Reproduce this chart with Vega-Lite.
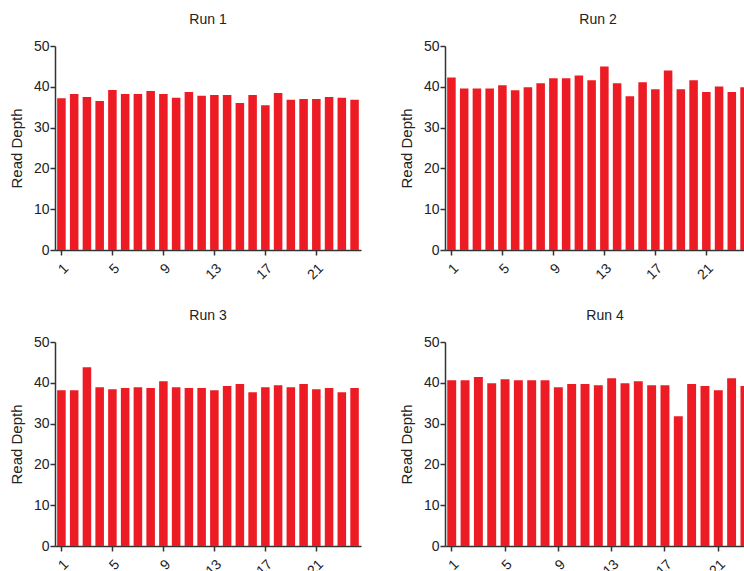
{
  "$schema": "https://vega.github.io/schema/vega-lite/v6.json",
  "padding": {"left": 9, "top": 13, "right": 0, "bottom": 0},
  "background": "white",
  "config": {
    "font": "Liberation Sans",
    "view": {"stroke": null},
    "axis": {"domainColor": "#333333", "domainWidth": 1.5, "tickColor": "#333333", "tickWidth": 1.5, "tickSize": 5, "labelFontSize": 14, "labelColor": "#222222", "titleFontSize": 15, "titleFontWeight": "normal", "titleColor": "#222222", "grid": false, "labelFont": "Liberation Sans", "titleFont": "Liberation Sans"},
    "title": {"fontSize": 14, "fontWeight": "normal", "color": "#222222", "font": "Liberation Sans", "offset": 12}
  },
  "data": {"values": [
    {"run": "Run 1", "sample": 1, "depth": 37.2}, {"run": "Run 1", "sample": 2, "depth": 38.25}, {"run": "Run 1", "sample": 3, "depth": 37.5}, {"run": "Run 1", "sample": 4, "depth": 36.5},
    {"run": "Run 1", "sample": 5, "depth": 39.2}, {"run": "Run 1", "sample": 6, "depth": 38.25}, {"run": "Run 1", "sample": 7, "depth": 38.25}, {"run": "Run 1", "sample": 8, "depth": 39.0},
    {"run": "Run 1", "sample": 9, "depth": 38.25}, {"run": "Run 1", "sample": 10, "depth": 37.3}, {"run": "Run 1", "sample": 11, "depth": 38.7}, {"run": "Run 1", "sample": 12, "depth": 37.8},
    {"run": "Run 1", "sample": 13, "depth": 38.0}, {"run": "Run 1", "sample": 14, "depth": 38.0}, {"run": "Run 1", "sample": 15, "depth": 36.05}, {"run": "Run 1", "sample": 16, "depth": 38.0},
    {"run": "Run 1", "sample": 17, "depth": 35.5}, {"run": "Run 1", "sample": 18, "depth": 38.5}, {"run": "Run 1", "sample": 19, "depth": 36.8}, {"run": "Run 1", "sample": 20, "depth": 37.0},
    {"run": "Run 1", "sample": 21, "depth": 37.0}, {"run": "Run 1", "sample": 22, "depth": 37.5}, {"run": "Run 1", "sample": 23, "depth": 37.3}, {"run": "Run 1", "sample": 24, "depth": 36.8},
    {"run": "Run 2", "sample": 1, "depth": 42.3}, {"run": "Run 2", "sample": 2, "depth": 39.6}, {"run": "Run 2", "sample": 3, "depth": 39.6}, {"run": "Run 2", "sample": 4, "depth": 39.6},
    {"run": "Run 2", "sample": 5, "depth": 40.4}, {"run": "Run 2", "sample": 6, "depth": 39.15}, {"run": "Run 2", "sample": 7, "depth": 39.9}, {"run": "Run 2", "sample": 8, "depth": 40.9},
    {"run": "Run 2", "sample": 9, "depth": 42.1}, {"run": "Run 2", "sample": 10, "depth": 42.1}, {"run": "Run 2", "sample": 11, "depth": 42.8}, {"run": "Run 2", "sample": 12, "depth": 41.6},
    {"run": "Run 2", "sample": 13, "depth": 45.0}, {"run": "Run 2", "sample": 14, "depth": 40.9}, {"run": "Run 2", "sample": 15, "depth": 37.7}, {"run": "Run 2", "sample": 16, "depth": 41.1},
    {"run": "Run 2", "sample": 17, "depth": 39.4}, {"run": "Run 2", "sample": 18, "depth": 44.0}, {"run": "Run 2", "sample": 19, "depth": 39.4}, {"run": "Run 2", "sample": 20, "depth": 41.6},
    {"run": "Run 2", "sample": 21, "depth": 38.7}, {"run": "Run 2", "sample": 22, "depth": 40.1}, {"run": "Run 2", "sample": 23, "depth": 38.7}, {"run": "Run 2", "sample": 24, "depth": 39.9},
    {"run": "Run 3", "sample": 1, "depth": 38.2}, {"run": "Run 3", "sample": 2, "depth": 38.2}, {"run": "Run 3", "sample": 3, "depth": 43.8}, {"run": "Run 3", "sample": 4, "depth": 38.9},
    {"run": "Run 3", "sample": 5, "depth": 38.4}, {"run": "Run 3", "sample": 6, "depth": 38.7}, {"run": "Run 3", "sample": 7, "depth": 38.9}, {"run": "Run 3", "sample": 8, "depth": 38.7},
    {"run": "Run 3", "sample": 9, "depth": 40.4}, {"run": "Run 3", "sample": 10, "depth": 38.9}, {"run": "Run 3", "sample": 11, "depth": 38.7}, {"run": "Run 3", "sample": 12, "depth": 38.7},
    {"run": "Run 3", "sample": 13, "depth": 38.2}, {"run": "Run 3", "sample": 14, "depth": 39.2}, {"run": "Run 3", "sample": 15, "depth": 39.7}, {"run": "Run 3", "sample": 16, "depth": 37.7},
    {"run": "Run 3", "sample": 17, "depth": 38.9}, {"run": "Run 3", "sample": 18, "depth": 39.4}, {"run": "Run 3", "sample": 19, "depth": 38.9}, {"run": "Run 3", "sample": 20, "depth": 39.7},
    {"run": "Run 3", "sample": 21, "depth": 38.4}, {"run": "Run 3", "sample": 22, "depth": 38.7}, {"run": "Run 3", "sample": 23, "depth": 37.7}, {"run": "Run 3", "sample": 24, "depth": 38.7},
    {"run": "Run 4", "sample": 1, "depth": 40.6}, {"run": "Run 4", "sample": 2, "depth": 40.6}, {"run": "Run 4", "sample": 3, "depth": 41.4}, {"run": "Run 4", "sample": 4, "depth": 39.9},
    {"run": "Run 4", "sample": 5, "depth": 40.9}, {"run": "Run 4", "sample": 6, "depth": 40.6}, {"run": "Run 4", "sample": 7, "depth": 40.6}, {"run": "Run 4", "sample": 8, "depth": 40.6},
    {"run": "Run 4", "sample": 9, "depth": 38.9}, {"run": "Run 4", "sample": 10, "depth": 39.7}, {"run": "Run 4", "sample": 11, "depth": 39.7}, {"run": "Run 4", "sample": 12, "depth": 39.4},
    {"run": "Run 4", "sample": 13, "depth": 41.1}, {"run": "Run 4", "sample": 14, "depth": 39.9}, {"run": "Run 4", "sample": 15, "depth": 40.4}, {"run": "Run 4", "sample": 16, "depth": 39.4},
    {"run": "Run 4", "sample": 17, "depth": 39.4}, {"run": "Run 4", "sample": 18, "depth": 31.8}, {"run": "Run 4", "sample": 19, "depth": 39.7}, {"run": "Run 4", "sample": 20, "depth": 39.2},
    {"run": "Run 4", "sample": 21, "depth": 38.2}, {"run": "Run 4", "sample": 22, "depth": 41.1}, {"run": "Run 4", "sample": 23, "depth": 39.2}, {"run": "Run 4", "sample": 24, "depth": 39.5}
  ]},
  "columns": 2,
  "spacing": {"row": 27, "column": 38},
  "concat": [
    {
      "title": "Run 1", "width": 306, "height": 204,
      "transform": [{"filter": "datum.run == 'Run 1'"}],
      "mark": {"type": "bar", "color": "#ED1C24"},
      "encoding": {
        "x": {"field": "sample", "type": "ordinal", "scale": {"paddingInner": 0.33, "paddingOuter": 0.17}, "axis": {"values": [1, 5, 9, 13, 17, 21], "labelAngle": -45, "labelPadding": 6, "title": null}},
        "y": {"field": "depth", "type": "quantitative", "scale": {"domain": [0, 50], "nice": false}, "axis": {"values": [0, 10, 20, 30, 40, 50], "title": "Read Depth", "labelPadding": 1, "titlePadding": 9}}
      }
    },
    {
      "title": "Run 2", "width": 306, "height": 204,
      "transform": [{"filter": "datum.run == 'Run 2'"}],
      "mark": {"type": "bar", "color": "#ED1C24"},
      "encoding": {
        "x": {"field": "sample", "type": "ordinal", "scale": {"paddingInner": 0.33, "paddingOuter": 0.17}, "axis": {"values": [1, 5, 9, 13, 17, 21], "labelAngle": -45, "labelPadding": 6, "title": null}},
        "y": {"field": "depth", "type": "quantitative", "scale": {"domain": [0, 50], "nice": false}, "axis": {"values": [0, 10, 20, 30, 40, 50], "title": "Read Depth", "labelPadding": 1, "titlePadding": 9}}
      }
    },
    {
      "title": "Run 3", "width": 306, "height": 204,
      "transform": [{"filter": "datum.run == 'Run 3'"}],
      "mark": {"type": "bar", "color": "#ED1C24"},
      "encoding": {
        "x": {"field": "sample", "type": "ordinal", "scale": {"paddingInner": 0.33, "paddingOuter": 0.17}, "axis": {"values": [1, 5, 9, 13, 17, 21], "labelAngle": -45, "labelPadding": 6, "title": null}},
        "y": {"field": "depth", "type": "quantitative", "scale": {"domain": [0, 50], "nice": false}, "axis": {"values": [0, 10, 20, 30, 40, 50], "title": "Read Depth", "labelPadding": 1, "titlePadding": 9}}
      }
    },
    {
      "title": "Run 4", "width": 320, "height": 204,
      "transform": [{"filter": "datum.run == 'Run 4'"}],
      "mark": {"type": "bar", "color": "#ED1C24"},
      "encoding": {
        "x": {"field": "sample", "type": "ordinal", "scale": {"paddingInner": 0.33, "paddingOuter": 0.17}, "axis": {"values": [1, 5, 9, 13, 17, 21], "labelAngle": -45, "labelPadding": 6, "title": null}},
        "y": {"field": "depth", "type": "quantitative", "scale": {"domain": [0, 50], "nice": false}, "axis": {"values": [0, 10, 20, 30, 40, 50], "title": "Read Depth", "labelPadding": 1, "titlePadding": 9}}
      }
    }
  ]
}
